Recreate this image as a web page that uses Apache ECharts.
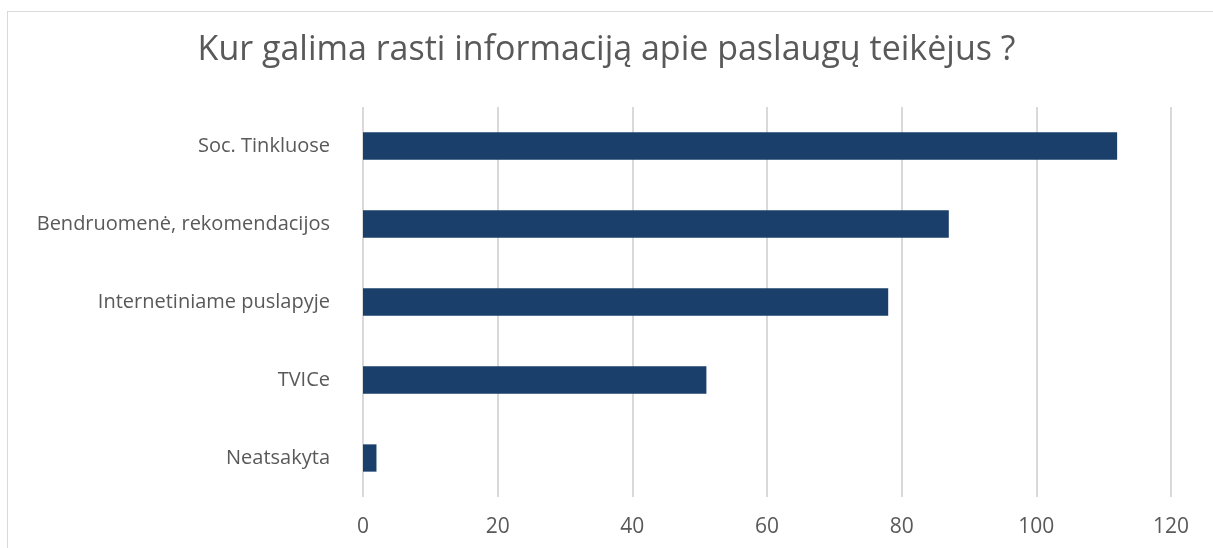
<!DOCTYPE html>
<html>
<head>
<meta charset="utf-8">
<script src="https://cdn.jsdelivr.net/npm/echarts@6/dist/echarts.min.js"></script>
<style>
html, body { margin: 0; padding: 0; background: #fff; overflow: hidden; }
#frame { position: absolute; left: 7px; top: 11px; width: 1230px; height: 560px; border: 1px solid #d9d9d9; box-sizing: border-box; }
#chart { position: absolute; left: 0; top: 0; width: 1213px; height: 548px; }
</style>
</head>
<body>
<div id="frame"></div>
<div id="chart"></div>
<script>
var categories = ['Neatsakyta', 'TVICe', 'Internetiniame puslapyje', 'Bendruomenė, rekomendacijos', 'Soc. Tinkluose'];
var values = [2, 51, 78, 87, 112];
var xTicks = [0, 20, 40, 60, 80, 100, 120];

var font = 'Open Sans';
var myChart = echarts.init(document.getElementById('chart'));
var option = {
    animation: false,
    title: {
        text: 'Kur galima rasti informaciją apie paslaugų teikėjus ?',
        left: 'center',
        top: 28,
        textStyle: {
            fontFamily: font,
            fontSize: 34,
            fontWeight: 'normal',
            color: '#595959'
        }
    },
    grid: {
        left: 363,
        right: 42,
        top: 107,
        bottom: 51
    },
    xAxis: {
        type: 'value',
        min: xTicks[0],
        max: xTicks[xTicks.length - 1],
        interval: 20,
        axisLine: { show: false },
        axisTick: { show: false },
        splitLine: { lineStyle: { color: '#d9d9d9', width: 2 } },
        axisLabel: {
            fontFamily: font,
            fontSize: 21,
            color: '#595959',
            margin: 20
        }
    },
    yAxis: {
        type: 'category',
        data: categories,
        axisLine: { show: false },
        axisTick: { show: false },
        axisLabel: {
            fontFamily: font,
            fontSize: 20,
            color: '#595959',
            margin: 33
        }
    },
    series: [
        {
            type: 'bar',
            data: values,
            barWidth: '35%',
            itemStyle: { color: '#1a3f6b' }
        }
    ]
};
myChart.setOption(option);
</script>
</body>
</html>
